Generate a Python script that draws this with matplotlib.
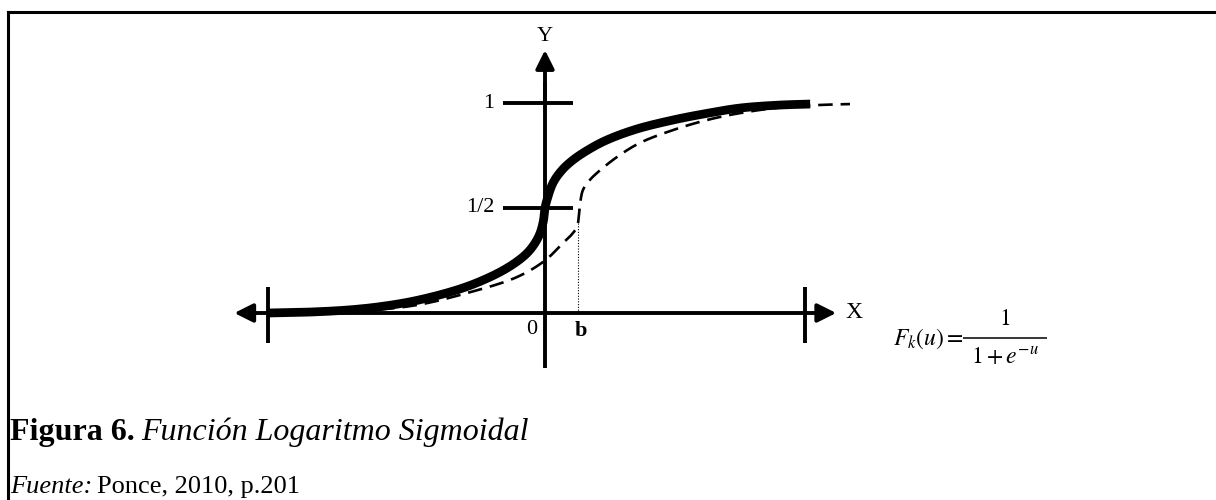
import matplotlib
matplotlib.use("Agg")
import numpy as np
import matplotlib.pyplot as plt
from matplotlib.lines import Line2D

plt.rcParams['font.family'] = ['Liberation Serif', 'DejaVu Serif']
plt.rcParams['mathtext.fontset'] = 'stix'

# ---- data (x in diagram units, y as fraction of the asymptote) ----
solid_x = [-10.65, -9.15, -7.5, -6.23, -5.0, -3.65, -2.7, -1.73, -1.1, -0.69, -0.4, -0.19,
           -0.06, 0.0, 0.08, 0.31, 0.65, 1.08, 1.7, 2.38, 3.5, 4.92, 6.2, 7.5, 9.0, 10.2]
solid_y = [0.0, 0.004, 0.015, 0.032, 0.058, 0.10, 0.14, 0.195, 0.243, 0.285, 0.33, 0.38,
           0.44, 0.5, 0.54, 0.62, 0.68, 0.729, 0.78, 0.824, 0.875, 0.919, 0.95, 0.976, 0.99, 0.995]

dashed_x = [-10.65, -8.5, -6.85, -4.92, -3.0, -1.08, 0.0, 0.69, 1.0, 1.23, 1.3, 1.33, 1.36,
            1.46, 1.7, 2.0, 2.77, 3.65, 4.92, 6.23, 7.5, 9.0, 10.46, 11.73]
dashed_y = [0.0, 0.004, 0.012, 0.038, 0.095, 0.171, 0.25, 0.333, 0.37, 0.41, 0.46, 0.5, 0.53,
            0.586, 0.63, 0.667, 0.743, 0.81, 0.871, 0.919, 0.952, 0.978, 0.99, 0.995]

b_value = 1.27
x_left, x_right = -10.65, 10.0
y_tick_values = [1.0, 0.5]
y_tick_labels = ["1", "1/2"]


def smooth_path(xs, ys, n=16):
    """Centripetal Catmull-Rom rendering through the given points."""
    P = np.column_stack([xs, ys]).astype(float)
    P = np.vstack([2 * P[0] - P[1], P, 2 * P[-1] - P[-2]])
    out = []
    scale = np.array([26.0, 210.0])  # pixel-ish metric for parametrisation
    for i in range(1, len(P) - 2):
        p0, p1, p2, p3 = P[i - 1], P[i], P[i + 1], P[i + 2]
        def tj(ti, a, b):
            return ti + np.sqrt(np.linalg.norm((b - a) * scale)) + 1e-9
        t0 = 0.0
        t1 = tj(t0, p0, p1)
        t2 = tj(t1, p1, p2)
        t3 = tj(t2, p2, p3)
        t = np.linspace(t1, t2, n, endpoint=False)[:, None]
        A1 = (t1 - t) / (t1 - t0) * p0 + (t - t0) / (t1 - t0) * p1
        A2 = (t2 - t) / (t2 - t1) * p1 + (t - t1) / (t2 - t1) * p2
        A3 = (t3 - t) / (t3 - t2) * p2 + (t - t2) / (t3 - t2) * p3
        B1 = (t2 - t) / (t2 - t0) * A1 + (t - t0) / (t2 - t0) * A2
        B2 = (t3 - t) / (t3 - t1) * A2 + (t - t1) / (t3 - t1) * A3
        C = (t2 - t) / (t2 - t1) * B1 + (t - t1) / (t2 - t1) * B2
        out.append(C)
    out.append(P[-2][None, :])
    C = np.vstack(out)
    return C[:, 0], C[:, 1]


# ---- figure ----
fig = plt.figure(figsize=(12.16, 5.0), dpi=100)
ax = fig.add_axes([0, 0, 1, 1])
ax.set_xlim(-545 / 26, (1216 - 545) / 26)
ax.set_ylim(-187 / 210, 313 / 210)
ax.axis('off')

# border (top and left)
fig.add_artist(Line2D([0.0066, 0.0066], [0, 0.977], transform=fig.transFigure, color='black', lw=2.2))
fig.add_artist(Line2D([0.0066, 1.0], [0.977, 0.977], transform=fig.transFigure, color='black', lw=2.2))

# X axis with double arrow
ax.annotate('', xy=(-11.95, 0), xytext=(11.2, 0),
            arrowprops=dict(arrowstyle='<|-|>', mutation_scale=28, lw=2.8, color='black',
                            shrinkA=0, shrinkB=0))
# Y axis with arrow
ax.plot([0, 0], [-0.262, 1.1], color='black', lw=2.8, solid_capstyle='butt')
ax.annotate('', xy=(0, 1.252), xytext=(0, 1.0),
            arrowprops=dict(arrowstyle='-|>', mutation_scale=28, lw=2.8, color='black',
                            shrinkA=0, shrinkB=0))

# vertical end ticks on X axis
for xv in (x_left, x_right):
    ax.plot([xv, xv], [-0.143, 0.124], color='black', lw=2.8, solid_capstyle='butt')

# horizontal ticks on Y axis
for yv, lab in zip(y_tick_values, y_tick_labels):
    ax.plot([-1.62, 1.08], [yv, yv], color='black', lw=2.8, solid_capstyle='butt')
    ax.text(-1.95, yv, lab, ha='right', va='center', fontsize=16)

# curves
sx, sy = smooth_path(solid_x, solid_y)
ax.plot(sx, sy, color='black', lw=6.3, solid_capstyle='butt', solid_joinstyle='round')
dx, dy = smooth_path(dashed_x, dashed_y)
ln, = ax.plot(dx, dy, color='black', lw=1.9)
ln.set_dashes((5.5, 3.0))

# dotted line at b
ax.plot([b_value, b_value], [0, 0.5], color='black', lw=0.8, linestyle=(0, (1, 1.5)))

# labels
ax.text(0, 1.315, "Y", ha='center', va='center', fontsize=16)
ax.text(11.9, 0.0, "X", ha='center', va='center', fontsize=17)
ax.text(-0.5, -0.08, "0", ha='center', va='center', fontsize=16)
ax.text(b_value + 0.1, -0.085, "b", ha='center', va='center', fontsize=16, fontweight='bold')

# formula F_k(u) = 1 / (1 + e^{-u})
ax.text(13.38, -0.125, r"$F_k(u) =$", ha='left', va='center', fontsize=17)
ax.plot([16.08, 19.31], [-0.119, -0.119], color='black', lw=1.1, solid_capstyle='butt')
ax.text(17.69, -0.03, r"$1$", ha='center', va='center', fontsize=17)
ax.text(17.69, -0.215, r"$1 + e^{-u}$", ha='center', va='center', fontsize=17)

# caption
renderer = fig.canvas.get_renderer()
t1 = fig.text(0.008, 0.135, "Figura 6.", ha='left', va='center', fontsize=23, fontweight='bold')
bb = t1.get_window_extent(renderer=renderer)
fig.text((bb.x1 + 7) / fig.bbox.width, 0.135, "Función Logaritmo Sigmoidal",
         ha='left', va='center', fontsize=23, fontstyle='italic')
t3 = fig.text(0.008, 0.026, "Fuente:", ha='left', va='center', fontsize=19, fontstyle='italic')
bb3 = t3.get_window_extent(renderer=renderer)
fig.text((bb3.x1 + 5) / fig.bbox.width, 0.026, "Ponce, 2010, p.201",
         ha='left', va='center', fontsize=19)

fig.savefig("out.png", dpi=100)
